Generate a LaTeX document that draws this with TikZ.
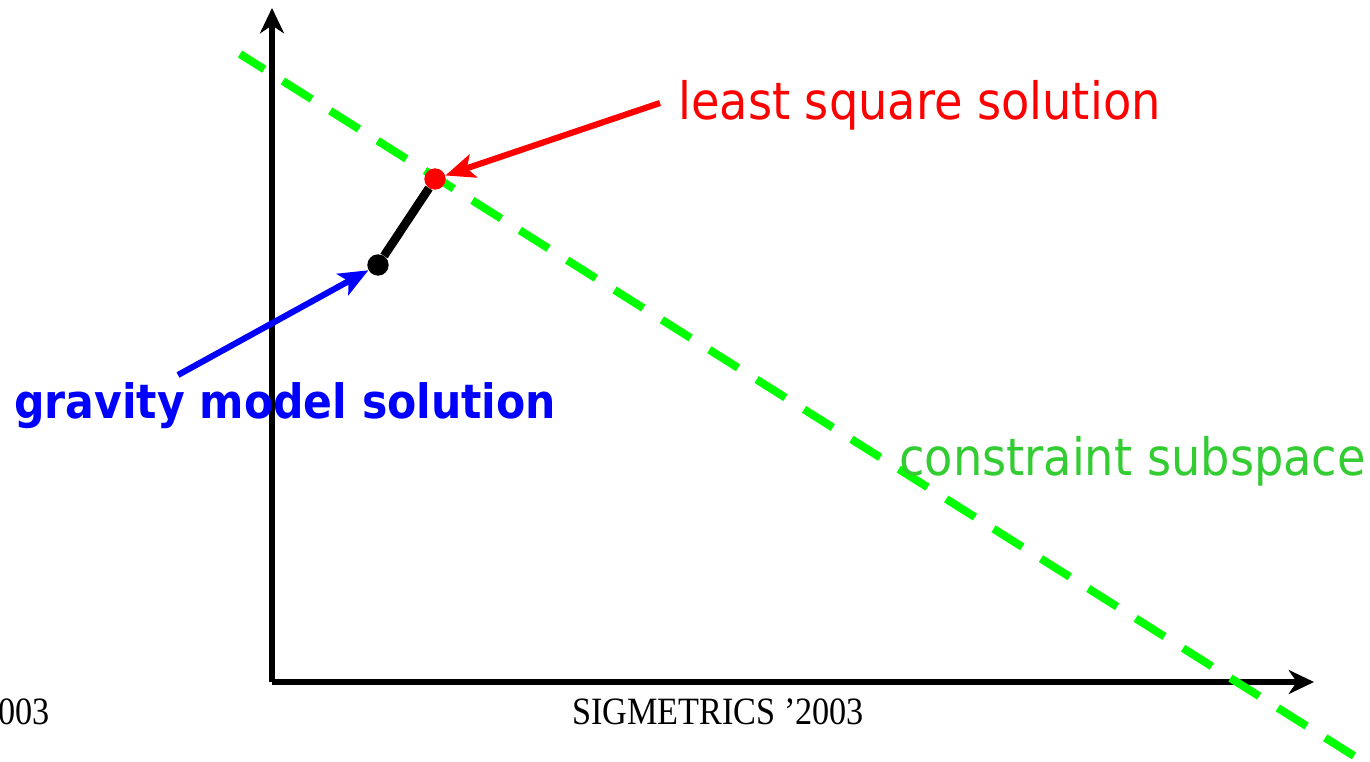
\documentclass[tikz,border=0pt]{standalone}
\usepackage{fontspec}
\setmainfont{Liberation Serif}
\newfontfamily\labelfont{DejaVu Sans Condensed}
\usetikzlibrary{arrows.meta}
\definecolor{lsred}{RGB}{255,0,0}
\definecolor{gmblue}{RGB}{0,0,255}
\definecolor{csgreen}{RGB}{0,255,0}
\definecolor{cstext}{RGB}{51,204,51}
\tikzset{
  plot axis/.style={-{Stealth[length=19pt,width=18pt,inset=6pt]},line width=4pt,draw=black},
  plot pointer/.style={-{Stealth[length=22pt,width=18pt,inset=5pt]},line width=4.6pt},
  plot point/.style={circle,inner sep=0pt,minimum size=16pt},
  plot label/.style={inner sep=0pt,anchor=base west,font=\labelfont\fontsize{38.6}{40}\selectfont},
  plot footer/.style={inner sep=0pt,font=\fontsize{29}{31}\selectfont}
}
\begin{document}
\begin{tikzpicture}[x=0.75pt,y=-0.75pt]
  \useasboundingbox (0,0) rectangle (1370,762);
  \coordinate (origin) at (272,682);
  \coordinate (ytop) at (272,8);
  \coordinate (xend) at (1314,682);
  \draw[plot axis] (origin)--(ytop);
  \draw[plot axis] (origin)--(xend);
  \coordinate (cstart) at (240,54);
  \coordinate (cend) at (1370,766);
  \draw[csgreen,line width=6pt,dash pattern=on 25.5pt off 16.5pt,dash phase=4pt] (cstart)--(cend);
  \node[plot point,fill=black] (gm) at (378,265) {};
  \node[plot point,fill=lsred] (ls) at (435,179) {};
  \draw[line width=6.5pt] (gm)--(ls);
  \node[plot label,text=lsred] (lstext) at (678,120) {least square solution};
  \node[plot label,text=gmblue,font=\labelfont\bfseries\fontsize{35.5}{38}\selectfont] (gmtext) at (14,419) {gravity model solution};
  \node[plot label,text=cstext] (cstext) at (899,475) {constraint subspace};
  \coordinate (lstail) at (660,103);
  \coordinate (gmtail) at (178,375);
  \draw[plot pointer,lsred] (lstail)--(ls);
  \draw[plot pointer,gmblue] (gmtail)--(gm);
  \node[plot footer,anchor=base west] (footer) at (572,724) {\scalebox{0.885}[1]{SIGMETRICS ’2003}};
  \node[plot footer,anchor=base east] (footleft) at (50,724) {\scalebox{0.885}[1]{003}};
\end{tikzpicture}
\end{document}
